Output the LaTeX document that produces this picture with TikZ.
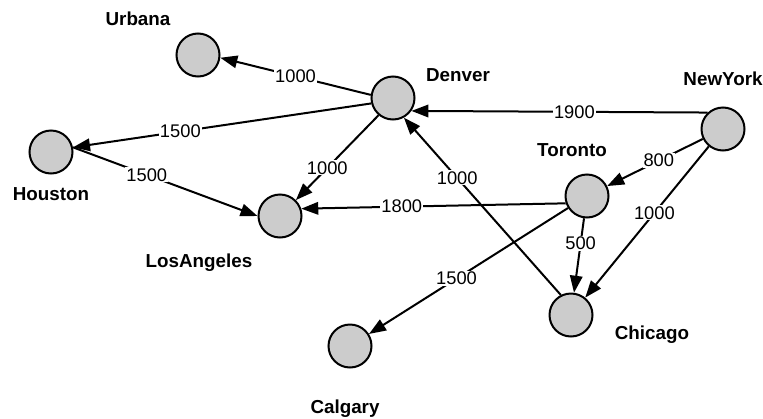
\documentclass[tikz,border=0pt]{standalone}
\usepackage{fontspec}
\setmainfont{Liberation Sans}
\usetikzlibrary{arrows.meta}
\definecolor{nodegray}{HTML}{CCCCCC}
\begin{document}
\begin{tikzpicture}[x=1pt,y=-1pt,
  city/.style={circle,draw=black,line width=2pt,fill=nodegray,minimum size=43pt,inner sep=0pt},
  cityname/.style={font=\fontsize{18.8}{20}\selectfont\bfseries,inner sep=0pt},
  road/.style={line width=2pt,-{Triangle[length=17pt,width=12.5pt]}},
  wlabel/.style={fill=white,inner sep=1pt,font=\fontsize{18.3}{20}\selectfont}]
\useasboundingbox (0,0) rectangle (763,418);
% cities
\node[city] (Urbana) at (198,55) {};
\node[city] (Denver) at (393,98) {};
\node[city] (NewYork) at (723,129) {};
\node[city] (Houston) at (51,152) {};
\node[city] (Toronto) at (587,196) {};
\node[city] (LosAngeles) at (280,216) {};
\node[city] (Chicago) at (571,315) {};
\node[city] (Calgary) at (350,346) {};
% names
\node[cityname] (tUrbana) at (138,19) {Urbana};
\node[cityname] (tDenver) at (458,75) {Denver};
\node[cityname] (tNewYork) at (723,79) {NewYork};
\node[cityname] (tHouston) at (51,194) {Houston};
\node[cityname] (tToronto) at (572,150) {Toronto};
\node[cityname] (tLosAngeles) at (199,263) {LosAngeles};
\node[cityname] (tChicago) at (652,335) {Chicago};
\node[cityname] (tCalgary) at (345,409) {Calgary};
% roads
\draw[road] (Denver.172) -- node[wlabel,pos=0.5]{1000} (Urbana.-7);
\draw[road] (Denver.194) -- node[wlabel,pos=0.64]{1500} (Houston.12);
\draw[road] (Houston.12) -- node[wlabel,pos=0.4]{1500} (LosAngeles.180);
\draw[road] (Denver.230) -- node[wlabel,pos=0.62]{1000} (LosAngeles.45);
\draw[road] (Toronto.199) -- node[wlabel,pos=0.62]{1800} (LosAngeles.19);
\draw[road] (NewYork.133) -- node[wlabel,pos=0.45]{1900} (Denver.-35);
\draw[road] (Chicago.117) -- node[wlabel,pos=0.66]{1000} (Denver.-61);
\draw[road] (NewYork) -- node[wlabel,pos=0.46]{800} (Toronto);
\draw[road] (NewYork) -- node[wlabel,pos=0.44]{1000} (Chicago);
\draw[road] (Toronto) -- node[wlabel,pos=0.34]{500} (Chicago);
\draw[road] (Toronto) -- node[wlabel,pos=0.56]{1500} (Calgary);
\end{tikzpicture}
\end{document}
